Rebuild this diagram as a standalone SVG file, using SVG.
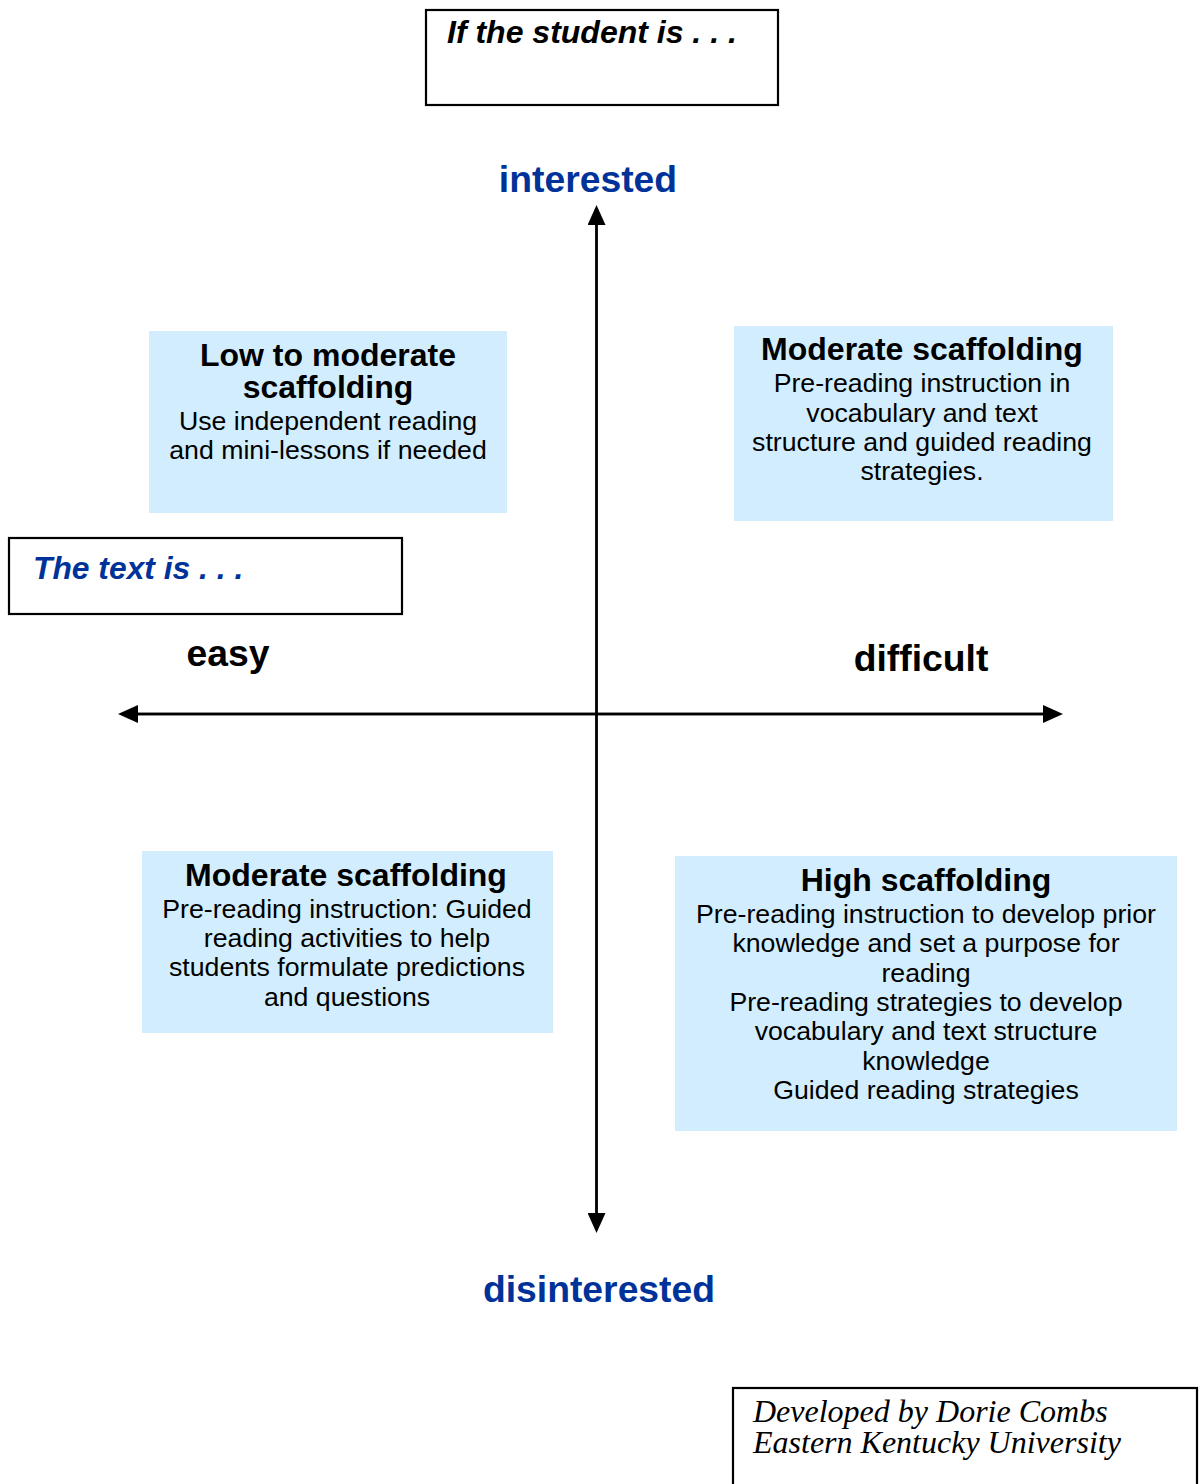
<svg xmlns="http://www.w3.org/2000/svg" width="1200" height="1484" viewBox="0 0 1200 1484">
<style>
.frame{fill:#fff;stroke:#000;stroke-width:2.2}
.q{fill:#d2eefe}
.t{font-family:"Liberation Sans",Arial,sans-serif;fill:#000;text-anchor:middle}
.h{font-size:32px;font-weight:bold}
.b{font-size:26.7px}
.ax{font-family:"Liberation Sans",Arial,sans-serif;font-weight:bold;font-size:37.3px;text-anchor:middle}
.blue{fill:#003399}
.axis{stroke:#000;stroke-width:2.4;fill:none}
</style>
<defs>
<marker id="ah" viewBox="0 0 20 18" refX="0" refY="9" markerWidth="20" markerHeight="18" markerUnits="userSpaceOnUse" orient="auto">
<path d="M0,0 L20,9 L0,18 Z" fill="#000"/>
</marker>
</defs>
<rect width="1200" height="1484" fill="#fff"/>

<g id="connectors">
<line class="axis" x1="596.5" y1="1213" x2="596.5" y2="225" marker-end="url(#ah)"/>
<line class="axis" x1="596.5" y1="225" x2="596.5" y2="1213" marker-end="url(#ah)"/>
<line class="axis" x1="1043" y1="714" x2="138" y2="714" marker-end="url(#ah)"/>
<line class="axis" x1="138" y1="714" x2="1043" y2="714" marker-end="url(#ah)"/>
</g>

<g id="student-box">
<rect class="frame" x="426" y="10" width="352" height="95"/>
<text x="447" y="43" font-family="Liberation Sans,Arial,sans-serif" font-weight="bold" font-style="italic" font-size="32px">If the student is . . .</text>
</g>

<g id="text-box">
<rect class="frame" x="9" y="538" width="393" height="76"/>
<text x="33" y="579" font-family="Liberation Sans,Arial,sans-serif" font-weight="bold" font-style="italic" font-size="31.8px" fill="#003399">The text is . . .</text>
</g>

<g id="interested"><text class="ax blue" x="588" y="192">interested</text></g>
<g id="disinterested"><text class="ax blue" x="599" y="1302">disinterested</text></g>
<g id="easy"><text class="ax" x="228" y="666">easy</text></g>
<g id="difficult"><text class="ax" x="921" y="671">difficult</text></g>

<g id="q-easy-interested">
<rect class="q" x="149" y="331" width="358" height="182"/>
<text class="t h" x="328" y="366">Low to moderate</text>
<text class="t h" x="328" y="398">scaffolding</text>
<text class="t b" x="328" y="430">Use independent reading</text>
<text class="t b" x="328" y="459">and mini-lessons if needed</text>
</g>

<g id="q-difficult-interested">
<rect class="q" x="734" y="326" width="379" height="195"/>
<text class="t h" x="922" y="360">Moderate scaffolding</text>
<text class="t b" x="922" y="392">Pre-reading instruction in</text>
<text class="t b" x="922" y="422">vocabulary and text</text>
<text class="t b" x="922" y="451">structure and guided reading</text>
<text class="t b" x="922" y="480">strategies.</text>
</g>

<g id="q-easy-disinterested">
<rect class="q" x="142" y="851" width="411" height="182"/>
<text class="t h" x="346" y="886">Moderate scaffolding</text>
<text class="t b" x="347" y="918">Pre-reading instruction: Guided</text>
<text class="t b" x="347" y="947">reading activities to help</text>
<text class="t b" x="347" y="976">students formulate predictions</text>
<text class="t b" x="347" y="1006">and questions</text>
</g>

<g id="q-difficult-disinterested">
<rect class="q" x="675" y="856" width="502" height="275"/>
<text class="t h" x="926" y="891">High scaffolding</text>
<text class="t b" x="926" y="923">Pre-reading instruction to develop prior</text>
<text class="t b" x="926" y="952">knowledge and set a purpose for</text>
<text class="t b" x="926" y="982">reading</text>
<text class="t b" x="926" y="1011">Pre-reading strategies to develop</text>
<text class="t b" x="926" y="1040">vocabulary and text structure</text>
<text class="t b" x="926" y="1070">knowledge</text>
<text class="t b" x="926" y="1099">Guided reading strategies</text>
</g>

<g id="credit">
<rect class="frame" x="733" y="1388" width="464" height="110"/>
<text x="753" y="1422" font-family="Liberation Serif,'Times New Roman',serif" font-style="italic" font-size="32px">Developed by Dorie Combs</text>
<text x="753" y="1453" font-family="Liberation Serif,'Times New Roman',serif" font-style="italic" font-size="32px">Eastern Kentucky University</text>
</g>
</svg>
